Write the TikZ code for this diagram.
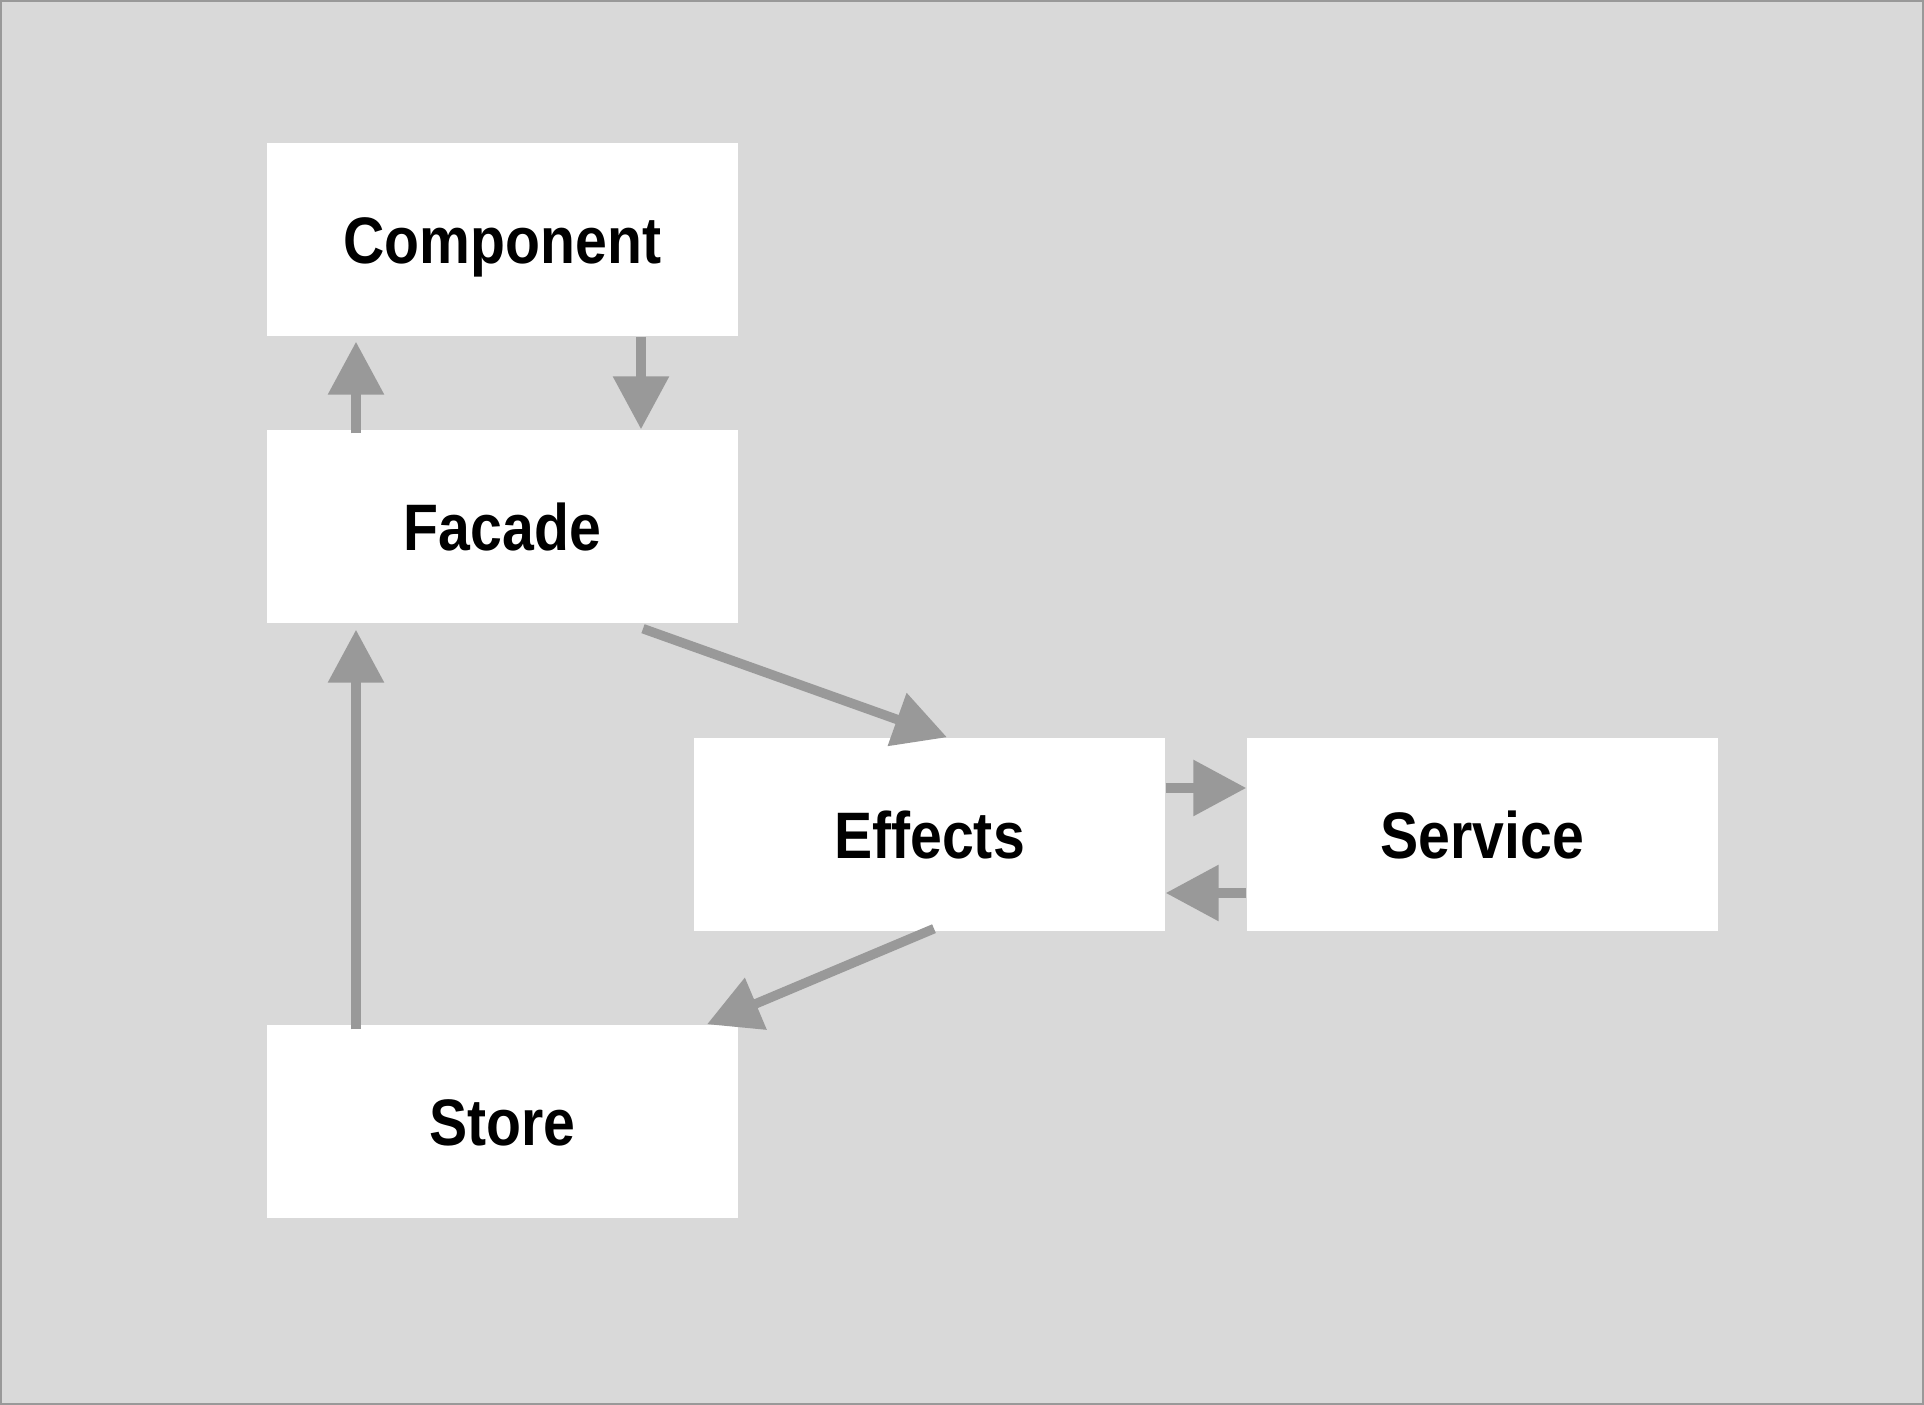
\documentclass[tikz,border=0pt]{standalone}
\usepackage{fontspec}
\newfontfamily\boxfont{Liberation Sans}[FakeStretch=0.87]
\usepackage{tikz}
\usetikzlibrary{arrows.meta}

\definecolor{canvasgray}{HTML}{D9D9D9}
\definecolor{linkgray}{HTML}{999999}

\begin{document}
\begin{tikzpicture}[
  every node/.style={font=\boxfont\bfseries\fontsize{18.7pt}{22pt}\selectfont, align=center},
  block/.style={rectangle, fill=white, inner sep=0pt, minimum width=4.71cm, minimum height=1.93cm, text height=0.49cm, text depth=0cm},
  link/.style={draw=linkgray, line width=0.095cm, -{Triangle[width=0.54cm, length=0.53cm]}, linkgray}
  ]

% Canvas
\useasboundingbox (0,0) rectangle (19.24,14.05);
\draw[fill=canvasgray, draw=linkgray, line width=0.02cm] (0.01,0.01) rectangle (19.23,14.04);

% Nodes
\node[block] (component) at (5.025, 11.655) {Component};
\node[block] (facade) at (5.025, 8.785) {Facade};
\node[block] (effects) at (9.295, 5.705) {Effects};
\node[block] (service) at (14.825, 5.705) {Service};
\node[block] (store) at (5.025, 2.835) {Store};

% Arrows
\draw[link] ([xshift=-1.465cm, yshift=-0.04cm]facade.north) -- ([xshift=-1.465cm, yshift=-0.05cm]component.south);
\draw[link] ([xshift=1.385cm]component.south) -- ([xshift=1.385cm]facade.north);
\draw[link] ([xshift=-1.465cm, yshift=-0.05cm]store.north) -- ([xshift=-1.465cm, yshift=-0.06cm]facade.south);
\draw[link] ([xshift=1.405cm, yshift=-0.05cm]facade.south) -- ([xshift=0.175cm]effects.north);
\draw[link] ([xshift=0.045cm, yshift=0.03cm]effects.south) -- ([xshift=2.045cm]store.north);
\draw[link] ([yshift=0.465cm]effects.east) -- ([yshift=0.465cm]service.west);
\draw[link] ([yshift=-0.585cm]service.west) -- ([yshift=-0.585cm]effects.east);

\end{tikzpicture}
\end{document}
